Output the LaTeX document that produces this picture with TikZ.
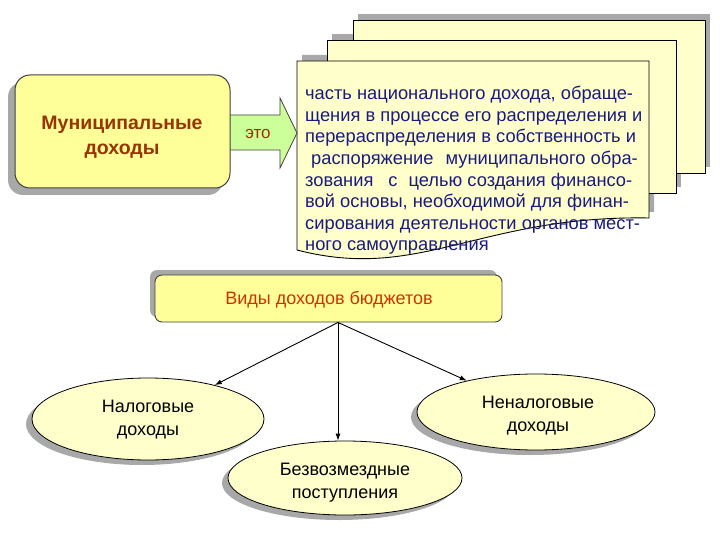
\documentclass[tikz,border=0pt]{standalone}
\usepackage{fontspec}
\setmainfont{Liberation Sans}
\usetikzlibrary{shapes.geometric,shadows,arrows.meta}
\definecolor{boxyellow}{HTML}{FFFF99}
\definecolor{sheetcream}{HTML}{FFFFCC}
\definecolor{ellcream}{HTML}{FFFFCC}
\definecolor{brownred}{HTML}{993300}
\definecolor{orangered}{HTML}{CC3300}
\definecolor{navytext}{HTML}{1A1A80}
\definecolor{arrowgreen}{HTML}{CCFF99}
\definecolor{shadowgray}{HTML}{A8A8A8}
\begin{document}
\begin{tikzpicture}[x=1pt,y=-1pt,
  shadowfill/.style={fill=shadowgray},
  sheet/.style={fill=sheetcream, draw=black, line width=0.9pt},
  greenarrow/.style={fill=arrowgreen, draw=black!75, line width=0.8pt},
  munbox/.style={rectangle, rounded corners=15pt, minimum width=215pt, minimum height=113pt,
    fill=boxyellow, draw=black!75, line width=1pt,
    drop shadow={shadow xshift=-7pt, shadow yshift=-7pt, fill=shadowgray, opacity=1}},
  muntext/.style={align=center, inner sep=0pt, text=brownred, font=\bfseries\fontsize{19.5}{25}\selectfont},
  vidbox/.style={rectangle, rounded corners=7pt, minimum width=347pt, minimum height=47pt,
    fill=boxyellow, draw=black!75, line width=0.9pt,
    drop shadow={shadow xshift=-5pt, shadow yshift=5pt, fill=shadowgray, opacity=1}},
  vidtext/.style={inner sep=0pt, text=orangered, font=\fontsize{18}{22}\selectfont},
  ell/.style={ellipse, fill=ellcream, draw=black, line width=0.8pt,
    drop shadow={shadow xshift=-6pt, shadow yshift=-5pt, fill=shadowgray, opacity=1}},
  elltext/.style={align=center, inner sep=0pt, font=\fontsize{18}{23}\selectfont},
  deftext/.style={align=left, inner sep=0pt, text=navytext, font=\fontsize{18.3}{21.6}\selectfont},
  etotext/.style={text=brownred, inner sep=0pt, font=\fontsize{17}{19}\selectfont},
  conn/.style={draw=black, line width=0.9pt, -{Latex[length=7pt,width=5pt]}}
]
\useasboundingbox (0,0) rectangle (720,540);

% stacked sheets: shadows first
\fill[shadowfill] (358,14) rectangle (710,167);
\fill[shadowfill] (332,34) rectangle (681,187);
\begin{scope}[shift={(5,-6)}]
  \fill[shadowfill] (297,61) -- (649,61) -- (649,218) .. controls (480,215) and (420,282) .. (297,250) -- cycle;
\end{scope}
\draw[sheet] (353,20) rectangle (705,173);
\draw[sheet] (327,40) rectangle (676,193);
\draw[sheet] (297,61) -- (649,61) -- (649,218) .. controls (480,215) and (420,282) .. (297,250) -- cycle;

\node[deftext, anchor=north west] (def) at (305,86) {часть национального дохода, обраще-\\щения в процессе его распределения и\\перераспределения в собственность и\\\hspace*{6pt}распоряжение\hspace{12pt}муниципального обра-\\зования\hspace{15pt}с\hspace{11pt}целью создания финансо-\\вой основы, необходимой для финан-\\сирования деятельности органов мест-\\ного самоуправления};

% green arrow "это"
\draw[greenarrow] (222,115) -- (280,115) -- (280,98) -- (297,133) -- (280,168) -- (280,150) -- (222,150) -- cycle;
\node[etotext] (eto) at (258,134) {это};

% municipal box
\node[munbox] (mun) at (122.5,131.5) {};
\node[muntext] (munt) at (122,137) {Муниципальные\\доходы};

% types box
\node[vidbox] (vid) at (328.5,298.5) {};
\node[vidtext] (vidt) at (329,300) {Виды доходов бюджетов};

% ellipses
\node[ell, minimum width=232pt, minimum height=82pt] (nal) at (148,419) {};
\node[ell, minimum width=234pt, minimum height=74pt] (bez) at (345,478) {};
\node[ell, minimum width=238pt, minimum height=76pt] (nenal) at (536,412) {};
\node[elltext] (nalt) at (148,420) {Налоговые\\доходы};
\node[elltext] (bezt) at (345,483) {Безвозмездные\\поступления};
\node[elltext] (nenalt) at (538,416) {Неналоговые\\доходы};

% connectors
\coordinate (apex) at ([xshift=9.5pt]vid.south);
\draw[conn] (apex) -- (nal);
\draw[conn] (apex) -- (apex |- bez.north);
\draw[conn] (apex) -- (nenal);
\end{tikzpicture}
\end{document}
